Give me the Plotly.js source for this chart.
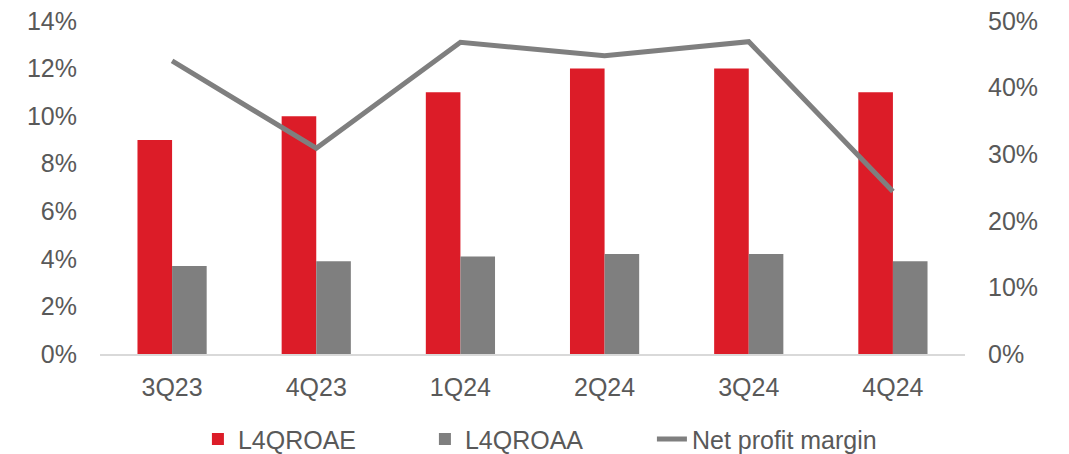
<!DOCTYPE html>
<html>
<head>
<meta charset="utf-8">
<script src="https://cdn.plot.ly/plotly-3.0.1.min.js"></script>
<style>
html,body{margin:0;padding:0;background:#fff;}
#chart{width:1069px;height:454px;}
</style>
</head>
<body>
<div id="chart"></div>
<script>
const categories = ["3Q23", "4Q23", "1Q24", "2Q24", "3Q24", "4Q24"];
const roae = [9, 10, 11, 12, 12, 11];
const roaa = [3.7, 3.9, 4.1, 4.2, 4.2, 3.9];
const netProfitMargin = [44.0, 30.9, 46.8, 44.8, 46.9, 24.4];
const leftTicks = [0, 2, 4, 6, 8, 10, 12, 14];
const rightTicks = [0, 10, 20, 30, 40, 50];

const textColor = "#595959";
const fontFamily = "'Liberation Sans', Arial, sans-serif";

const traces = [
  {
    type: "bar", name: "L4QROAE", x: categories, y: roae,
    marker: {color: "#DC1C28"}, yaxis: "y"
  },
  {
    type: "bar", name: "L4QROAA", x: categories, y: roaa,
    marker: {color: "#7F7F7F"}, yaxis: "y"
  },
  {
    type: "scatter", mode: "lines", name: "Net profit margin", x: categories, y: netProfitMargin,
    line: {color: "#7F7F7F", width: 5}, yaxis: "y2"
  }
];

const layout = {
  width: 1069, height: 454,
  margin: {l: 100, r: 104, t: 21, b: 100, autoexpand: false},
  paper_bgcolor: "#ffffff", plot_bgcolor: "#ffffff",
  font: {family: fontFamily, size: 25, color: textColor},
  barmode: "group",
  bargap: 0.52,
  bargroupgap: 0,
  showlegend: true,
  legend: {
    orientation: "h", x: 0.1132, xanchor: "left",
    yref: "container", y: 0.083, yanchor: "top",
    font: {family: fontFamily, size: 25, color: textColor},
    traceorder: "normal",
    entrywidth: 182, entrywidthmode: "pixels"
  },
  xaxis: {
    type: "category",
    showgrid: false, zeroline: false,
    showline: true, linecolor: "#D9D9D9", linewidth: 2,
    ticks: "", ticklabelstandoff: 10,
    tickfont: {family: fontFamily, size: 25, color: textColor}
  },
  yaxis: {
    range: [0, 14], tickmode: "array", tickvals: leftTicks,
    ticktext: leftTicks.map(v => v + "%"),
    showgrid: false, zeroline: false, showline: false, ticks: "",
    ticklabelstandoff: 22,
    tickfont: {family: fontFamily, size: 25, color: textColor}
  },
  yaxis2: {
    range: [0, 50], tickmode: "array", tickvals: rightTicks,
    ticktext: rightTicks.map(v => v + "%"),
    overlaying: "y", side: "right",
    showgrid: false, zeroline: false, showline: false, ticks: "",
    ticklabelstandoff: 22,
    tickfont: {family: fontFamily, size: 25, color: textColor}
  }
};

Plotly.newPlot("chart", traces, layout, {displayModeBar: false, staticPlot: true});
</script>
</body>
</html>
